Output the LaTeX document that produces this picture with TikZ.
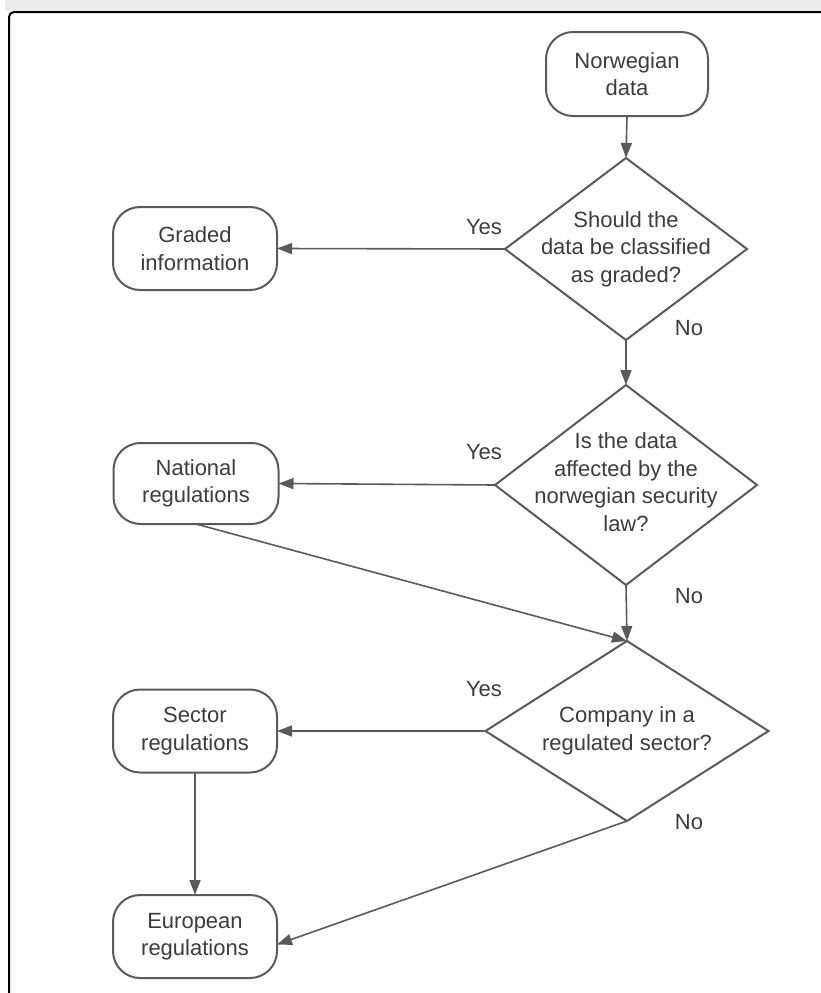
\documentclass[tikz,border=0pt]{standalone}
\usepackage{fontspec}
\setmainfont{Liberation Sans}
\usetikzlibrary{shapes.geometric,arrows.meta}
\definecolor{stroke}{HTML}{5A5A5A}
\definecolor{ink}{HTML}{3C3C3C}
\definecolor{band}{HTML}{EDEDED}
\begin{document}
\begin{tikzpicture}[x=1pt,y=-1pt,
  every node/.style={font=\fontsize{22}{27.5}\selectfont, text=ink},
  terminal/.style={draw=stroke, line width=2pt, rounded corners=27pt,
    minimum width=164pt, minimum height=83pt, align=center,
    inner sep=0pt, outer sep=0pt},
  decision/.style={draw=stroke, line width=2pt, diamond,
    inner sep=0pt, outer sep=0pt},
  qtext/.style={align=center},
  flow/.style={draw=stroke, line width=1.6pt,
    -{Triangle[length=15pt,width=11pt]}}
]
\useasboundingbox (0,0) rectangle (821,993);
% window frame
\fill[band] (5,0) rectangle (821,11);
\draw[stroke, line width=2pt, rounded corners=5pt] (9,993) -- (9,12) -- (821,12);

% start
\node[terminal, minimum width=162pt, minimum height=84pt] (nd) at (627,74) {Norwegian\\data};

% decisions
\node[decision, minimum width=242pt, minimum height=182pt] (d1) at (626,249) {};
\node[qtext] (t1) at (d1) {Should the\\data be classified\\as graded?};

\node[decision, minimum width=262pt, minimum height=200pt] (d2) at (626,485) {};
\node[qtext] (t2) at (626,482) {Is the data\\affected by the\\norwegian security\\law?};

\node[decision, minimum width=283pt, minimum height=180pt] (d3) at (627,731) {};
\node[qtext] (t3) at (d3) {Company in a\\regulated sector?};

% outcomes
\node[terminal] (gi) at (195,248.5) {Graded\\information};
\node[terminal, minimum width=165pt, minimum height=81pt] (nr) at (196,483.5) {National\\regulations};
\node[terminal] (sr) at (195,731) {Sector\\regulations};
\node[terminal] (er) at (195,936.5) {European\\regulations};

% connectors
\draw[flow] (nd.south) -- (d1.north);
\draw[flow] (d1.west) -- (gi.east);
\draw[flow] (d1.south) -- (d2.north);
\draw[flow] (d2.west) -- (nr.east);
\draw[flow] (d2.south) -- (d3.north);
\draw[flow] (nr.south) -- (d3.north);
\draw[flow] (d3.west) -- (sr.east);
\draw[flow] (sr.south) -- (er.north);
\draw[flow] (d3.south) -- ([yshift=-8pt]er.east);

% answer labels
\node (y1) at (484,227) {Yes};
\node (n1) at (689,328) {No};
\node (y2) at (484,452) {Yes};
\node (n2) at (689,596) {No};
\node (y3) at (484,689) {Yes};
\node (n3) at (689,822) {No};
\end{tikzpicture}
\end{document}
